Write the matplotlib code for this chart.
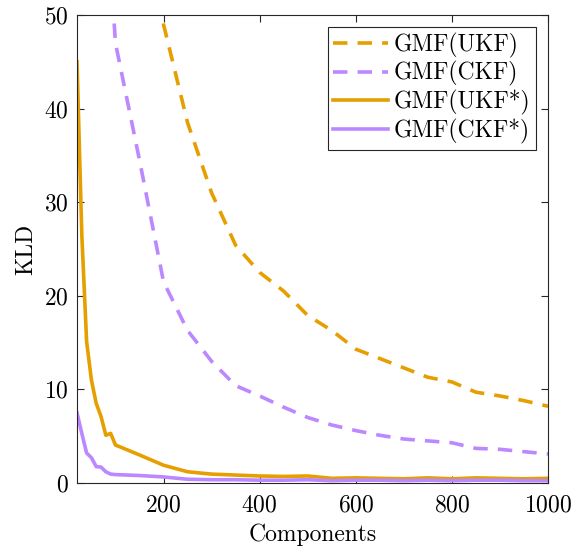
import matplotlib
matplotlib.use('Agg')
import matplotlib.pyplot as plt

# component counts
comps = [20, 30, 40, 50, 60, 70, 80, 90, 100, 150, 200, 250, 300, 350, 400, 450, 500,
         550, 600, 650, 700, 750, 800, 850, 900, 950, 1000]

# KLD values
kld_ukf = [400, 300, 240, 200, 170, 150, 130, 115, 100, 75, 49.0, 38.5, 31.0, 25.4, 22.5,
           20.5, 17.9, 16.3, 14.3, 13.3, 12.3, 11.3, 10.8, 9.7, 9.3, 8.8, 8.2]
kld_ckf = [200, 150, 120, 100, 85, 72, 63, 55, 47.0, 34.5, 21.5, 16.3, 13.0, 10.4, 9.3,
           8.1, 7.0, 6.2, 5.6, 5.1, 4.7, 4.5, 4.3, 3.7, 3.6, 3.35, 3.1]
kld_ukf_s = [45.0, 26.5, 15.1, 11.0, 8.5, 7.1, 5.1, 5.3, 4.06, 3.0, 1.9, 1.2, 0.95, 0.85,
             0.75, 0.7, 0.75, 0.5, 0.55, 0.5, 0.45, 0.55, 0.45, 0.55, 0.5, 0.45, 0.5]
kld_ckf_s = [7.5, 5.3, 3.2, 2.7, 1.75, 1.7, 1.2, 0.95, 0.9, 0.8, 0.65, 0.4, 0.35, 0.35,
             0.3, 0.3, 0.35, 0.25, 0.3, 0.3, 0.25, 0.3, 0.25, 0.3, 0.3, 0.25, 0.25]

orange = '#E69F00'
purple = '#BB88FF'

plt.rcParams['font.family'] = 'serif'
plt.rcParams['font.serif'] = ['cmr10']
plt.rcParams['mathtext.fontset'] = 'cm'
plt.rcParams['axes.formatter.use_mathtext'] = True

fig = plt.figure(figsize=(5.76, 5.48), dpi=100)
ax = fig.add_axes([0.1337, 0.1186, 0.8177, 0.854])

lw = 2.6
ax.plot(comps, kld_ukf, color=orange, lw=lw, dashes=(4, 2.8), label='GMF(UKF)')
ax.plot(comps, kld_ckf, color=purple, lw=lw, dashes=(4, 2.8), label='GMF(CKF)')
ax.plot(comps, kld_ukf_s, color=orange, lw=lw, label='GMF(UKF*)')
ax.plot(comps, kld_ckf_s, color=purple, lw=lw, label='GMF(CKF*)')

ax.set_xlim(20, 1000)
ax.set_ylim(0, 50)
ax.set_xticks([200, 400, 600, 800, 1000])
ax.set_yticks([0, 10, 20, 30, 40, 50])
ax.tick_params(direction='in', top=True, right=True, labelsize=17, length=5,
               width=0.8, color='#262626')
ax.tick_params(axis='x', pad=8)
ax.tick_params(axis='y', pad=6)
for s in ax.spines.values():
    s.set_color('#262626')
    s.set_linewidth(0.8)

ax.set_xlabel('Components', fontsize=17, labelpad=5)
ax.set_ylabel('KLD', fontsize=17, labelpad=5)

leg = ax.legend(loc='upper right', fontsize=17, fancybox=False, framealpha=1,
                edgecolor='#262626', handlelength=2.3, borderpad=0.25,
                labelspacing=0.15, handletextpad=0.25, borderaxespad=0.5)
leg.get_frame().set_linewidth(0.8)

fig.savefig('out.png', dpi=100)
